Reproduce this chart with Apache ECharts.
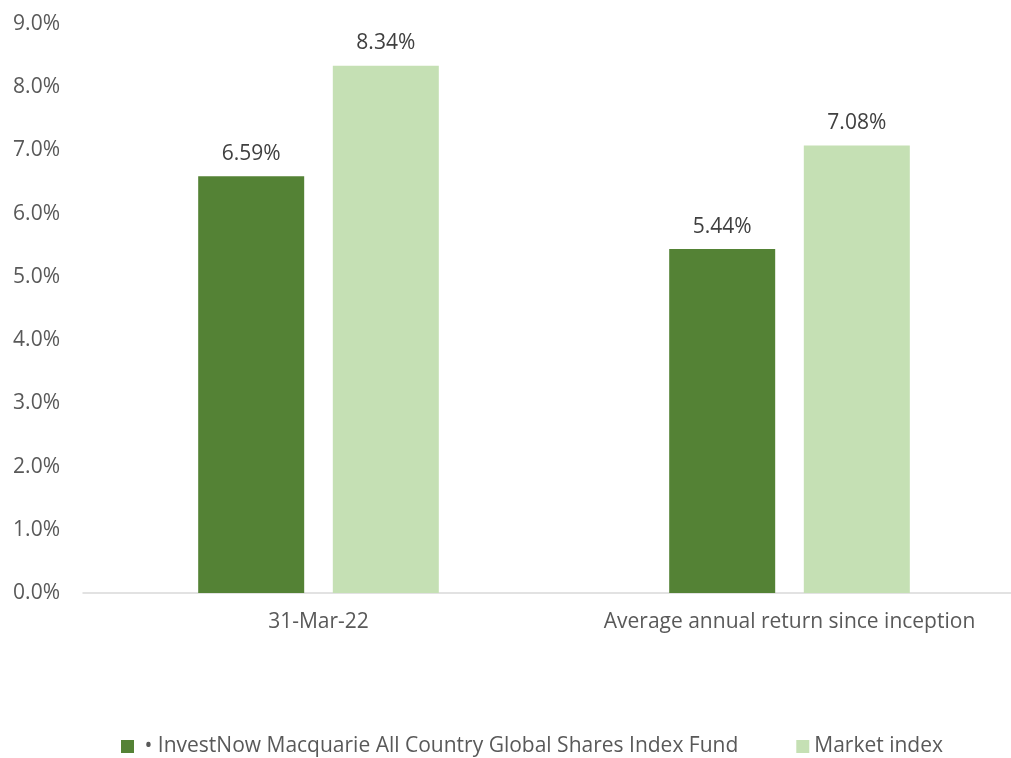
<!DOCTYPE html>
<html>
<head>
    <meta charset="utf-8">
    <title>ECharts</title>
    <script src="https://cdn.jsdelivr.net/npm/echarts@6/dist/echarts.min.js"></script>
</head>
<body style="margin:0;overflow:hidden">
    <div id="main" style="width:1025px;height:758px;"></div>
    <script type="text/javascript">
        var categories = ['31-Mar-22', 'Average annual return since inception'];
        var fundName = '\u2022 InvestNow Macquarie All Country Global Shares Index Fund';
        var fundValues = [6.59, 5.44];
        var indexName = 'Market index';
        var indexValues = [8.34, 7.08];

        var chart = echarts.init(document.getElementById('main'));
        var textColor = '#595959';
        var font = 'Open Sans';

        // plot area is a bit wider than the window, the right edge gets cut like in the original
        var option = {
            backgroundColor: '#ffffff',
            textStyle: { fontFamily: font },
            animation: false,
            grid: {
                left: 83,
                right: 0,
                top: 24,
                bottom: 165,
                containLabel: false
            },
            legend: {
                data: [fundName, indexName],
                bottom: -4,
                left: 116,
                itemWidth: 13,
                itemHeight: 13,
                itemGap: 58,
                icon: 'rect',
                formatter: function (n) { return n.charAt(0) === '\u2022' ? ' ' + n : n; },
                textStyle: { color: textColor, fontSize: 21, fontFamily: font }
            },
            xAxis: {
                type: 'category',
                data: categories,
                axisTick: { show: false },
                axisLine: { lineStyle: { color: '#d9d9d9', width: 1.5 } },
                axisLabel: { color: textColor, fontSize: 21, margin: 19, interval: 0 }
            },
            yAxis: {
                type: 'value',
                min: 0,
                max: 9,
                interval: 1,
                splitLine: { show: false },
                axisLine: { show: false },
                axisTick: { show: false },
                axisLabel: {
                    color: textColor,
                    fontSize: 21,
                    margin: 23,
                    formatter: function (v) { return v.toFixed(1) + '%'; }
                }
            },
            series: [
                {
                    name: fundName,
                    type: 'bar',
                    data: fundValues,
                    barWidth: 106,
                    barGap: '27%',
                    itemStyle: { color: '#548235' },
                    label: {
                        show: true,
                        position: 'top',
                        distance: 12,
                        color: '#404040',
                        fontSize: 21,
                        formatter: function (p) { return p.value.toFixed(2) + '%'; }
                    }
                },
                {
                    name: indexName,
                    type: 'bar',
                    data: indexValues,
                    barWidth: 106,
                    itemStyle: { color: '#c5e0b4' },
                    label: {
                        show: true,
                        position: 'top',
                        distance: 12,
                        color: '#404040',
                        fontSize: 21,
                        formatter: function (p) { return p.value.toFixed(2) + '%'; }
                    }
                }
            ]
        };
        chart.setOption(option);
    </script>
</body>
</html>
